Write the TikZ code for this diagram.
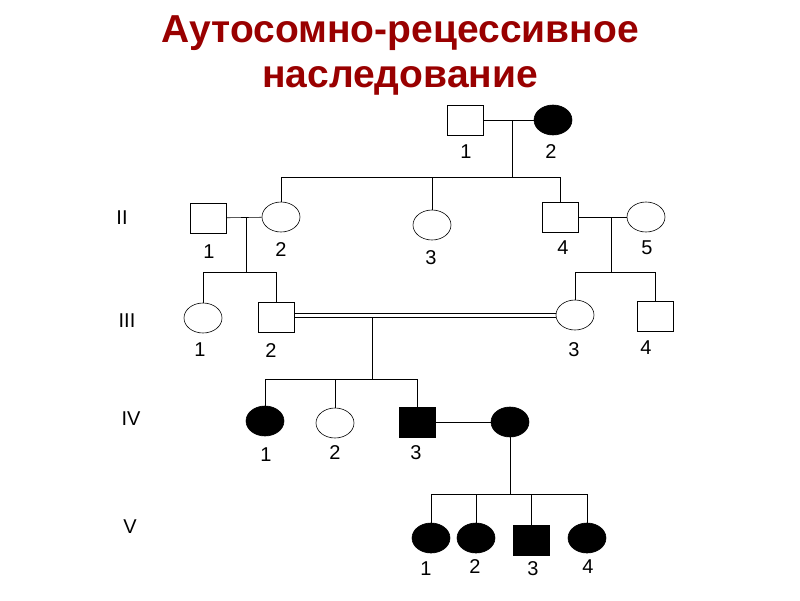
\documentclass[tikz,border=0pt]{standalone}
\usepackage{fontspec}
\setmainfont{Liberation Sans}
\usetikzlibrary{shapes.geometric}
\begin{document}
\begin{tikzpicture}[x=1pt,y=-1pt,
  male/.style={draw,line width=0.6pt,minimum width=36pt,minimum height=30pt,inner sep=0pt},
  female/.style={draw,ellipse,line width=0.6pt,minimum width=38pt,minimum height=30pt,inner sep=0pt},
  aff/.style={fill=black},
  lbl/.style={font=\fontsize{20}{20}\selectfont},
  ln/.style={line width=0.6pt}]
\useasboundingbox (0,0) rectangle (800,600);
\node[font=\fontsize{39}{45}\selectfont\bfseries,text=red!60!black,align=center] (title) at (400,55) {Аутосомно-рецессивное\\наследование};
% I
\node[male] (i1) at (465,120) {};
\node[female,aff] (i2) at (553,120) {};
\node[lbl] at (466,152) {1}; \node[lbl] at (551,152) {2};
\draw[ln] (i1) -- (i2);
\coordinate (mi) at (512,120); \coordinate (si) at (512,177);
\draw[ln] (mi) -- (si);
% II
\node[lbl] at (122,218) {II};
\node[male] (ii1) at (208,218) {};
\node[female] (ii2) at (281,217) {};
\node[female] (ii3) at (432,225) {};
\node[male] (ii4) at (560,217) {};
\node[female] (ii5) at (646,217) {};
\node[lbl] at (209,252) {1}; \node[lbl] at (281,250) {2}; \node[lbl] at (431,258) {3};
\node[lbl] at (563,248) {4}; \node[lbl] at (647,248) {5};
\draw[ln] (ii2.north |- si) -- (ii4.north |- si);
\draw[ln] (ii2.north |- si) -- (ii2.north);
\draw[ln] (ii3.north |- si) -- (ii3.north);
\draw[ln] (ii4.north |- si) -- (ii4.north);
\draw[ln] (ii1) -- (ii2);
\draw[ln] (ii4) -- (ii5);
\coordinate (m2a) at (246,218); \coordinate (s2a) at (246,272);
\coordinate (m2b) at (611,217); \coordinate (s2b) at (611,272);
\draw[ln] (m2a) -- (s2a); \draw[ln] (m2b) -- (s2b);
% III
\node[lbl] at (127,321) {III};
\node[female] (iii1) at (203,318) {};
\node[male] (iii2) at (276,317) {};
\node[female] (iii3) at (575,315) {};
\node[male] (iii4) at (655,316) {};
\node[lbl] at (200,350) {1}; \node[lbl] at (271,351) {2};
\node[lbl] at (574,350) {3}; \node[lbl] at (646,348) {4};
\draw[ln] (iii1.north |- s2a) -- (iii2.north |- s2a);
\draw[ln] (iii1.north |- s2a) -- (iii1.north);
\draw[ln] (iii2.north |- s2a) -- (iii2.north);
\draw[ln] (iii3.north |- s2b) -- (iii4.north |- s2b);
\draw[ln] (iii3.north |- s2b) -- (iii3.north);
\draw[ln] (iii4.north |- s2b) -- (iii4.north);
\draw[ln] ([yshift=-2pt]iii2.east |- iii3.west) -- ([yshift=-2pt]iii3.west);
\draw[ln] ([yshift=2pt]iii2.east |- iii3.west) -- ([yshift=2pt]iii3.west);
\coordinate (m3) at (372,317); \coordinate (s3) at (372,379);
\draw[ln] (m3) -- (s3);
% IV
\node[lbl] at (131,419) {IV};
\node[female,aff] (iv1) at (265,421) {};
\node[female] (iv2) at (335,423) {};
\node[male,aff] (iv3) at (417,422) {};
\node[female,aff] (iv4) at (510,422) {};
\node[lbl] at (266,455) {1}; \node[lbl] at (335,453) {2}; \node[lbl] at (416,453) {3};
\draw[ln] (iv1.north |- s3) -- (iv3.north |- s3);
\draw[ln] (iv1.north |- s3) -- (iv1.north);
\draw[ln] (iv2.north |- s3) -- (iv2.north);
\draw[ln] (iv3.north |- s3) -- (iv3.north);
\draw[ln] (iv3) -- (iv4);
\coordinate (s4) at (510,494);
\draw[ln] (iv4.south) -- (s4);
% V
\node[lbl] at (130,527) {V};
\node[female,aff] (v1) at (431,538) {};
\node[female,aff] (v2) at (476,538) {};
\node[male,aff] (v3) at (531,540) {};
\node[female,aff] (v4) at (587,538) {};
\node[lbl] at (426,569) {1}; \node[lbl] at (475,567) {2};
\node[lbl] at (533,569) {3}; \node[lbl] at (588,567) {4};
\draw[ln] (v1.north |- s4) -- (v4.north |- s4);
\foreach \n in {v1,v2,v3,v4} \draw[ln] (\n.north |- s4) -- (\n.north);
\end{tikzpicture}
\end{document}
